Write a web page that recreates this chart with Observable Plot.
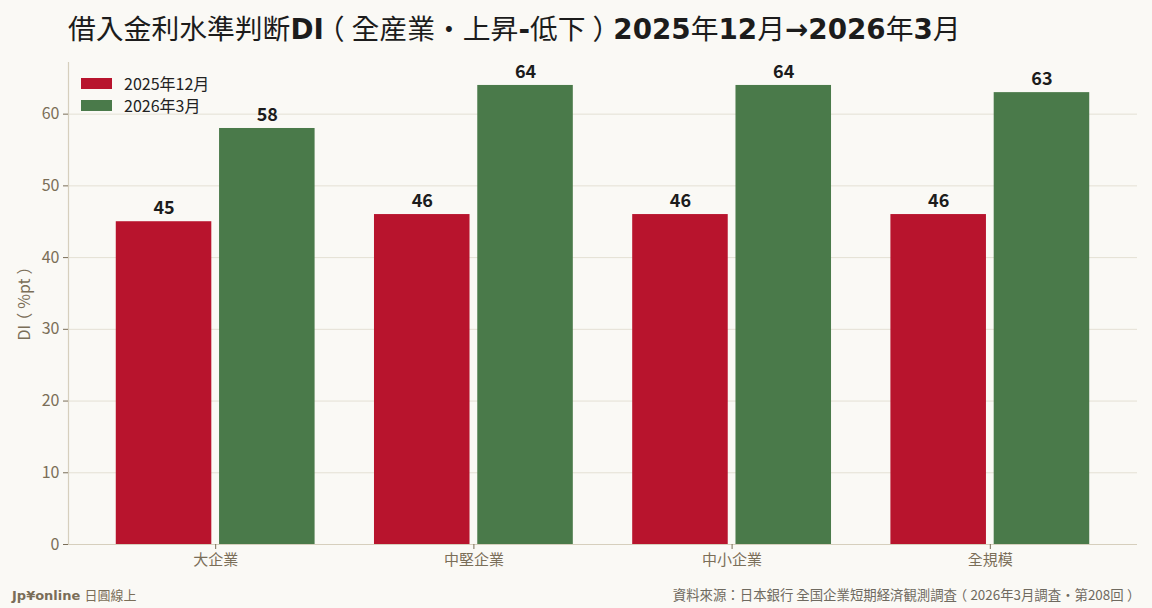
<!DOCTYPE html>
<html>
<head>
<meta charset="utf-8">
<script src="https://cdn.jsdelivr.net/npm/d3@7"></script>
<script src="https://cdn.jsdelivr.net/npm/@observablehq/plot@0.6"></script>
<style>
  html, body { margin: 0; padding: 0; background: #faf9f5; }
  #wrap { position: relative; width: 1152px; height: 608px; overflow: hidden; background: #faf9f5; }
  #title { position: absolute; left: 68px; top: 7px; font-size: 27.8px; color: #1c1c1c; white-space: nowrap;
           font-family: "DejaVu Sans", "Noto Sans CJK TC", sans-serif; font-weight: 700; line-height: 40px; }
  #title .cjk { font-family: "Noto Sans CJK TC", sans-serif; font-weight: 400; }
  .pp { font-feature-settings: "halt"; margin: 0 0.25em; }
  #chart { position: absolute; left: 0; top: 50px; }
  #legend { position: absolute; left: 81px; top: 72px; font-family: "Noto Sans CJK TC", sans-serif; font-size: 16px; color: #222; }
  #legend .row { display: flex; align-items: center; height: 22px; }
  #legend .sw { width: 31px; height: 11px; margin-right: 12px; }
  #foot-left { position: absolute; left: 12px; top: 585px; font-family: "DejaVu Sans", "Noto Sans CJK TC", sans-serif; font-size: 13px; color: #7a6e58; }
  #foot-left b { font-weight: 700; }
  #foot-left span { font-family: "Noto Sans CJK TC", sans-serif; }
  #foot-right { position: absolute; right: 15px; top: 584px; font-family: "Noto Sans CJK TC", sans-serif; font-size: 13.4px; color: #6f6a60; white-space: nowrap; }
</style>
</head>
<body>
<div id="wrap">
  <div id="title"></div>
  <div id="chart"></div>
  <div id="legend"></div>
  <div id="foot-left"><b>Jp¥online</b> <span>日圓線上</span></div>
  <div id="foot-right"></div>
</div>
<script>
const titleText = "借入金利水準判断DI（全産業・上昇-低下）2025年12月→2026年3月";
const sourceText = "資料來源：日本銀行 全国企業短期経済観測調査（2026年3月調査・第208回）";
const yLabel = "DI（%pt）";
const categories = ["大企業", "中堅企業", "中小企業", "全規模"];
const seriesNames = ["2025年12月", "2026年3月"];
const dec2025 = [45, 46, 46, 46];
const mar2026 = [58, 64, 64, 63];
const yTicks = [0, 10, 20, 30, 40, 50, 60];
const colors = ["#b8142d", "#4a7a4a"];

const centerParens = s => s.replace(/([（）])/g, '<span class="pp">$1</span>');

// Title: Latin parts bold, CJK parts regular
const titleEl = document.getElementById("title");
titleEl.innerHTML = titleText.replace(/([\u3000-\u30ff\u4e00-\u9fff\uff00-\uffef]+)/g, m => '<span class="cjk">' + centerParens(m) + '</span>');
document.getElementById("foot-right").innerHTML = centerParens(sourceText);

// Legend
const legendEl = document.getElementById("legend");
seriesNames.forEach((s, i) => {
  const row = document.createElement("div");
  row.className = "row";
  row.innerHTML = `<div class="sw" style="background:${colors[i]}"></div><div>${s}</div>`;
  legendEl.appendChild(row);
});

// Data table
const offset = 0.2, half = 0.185;
const rows = [];
categories.forEach((c, i) => {
  [dec2025, mar2026].forEach((vals, j) => {
    const cx = i + (j === 0 ? -offset : offset);
    rows.push({cat: c, series: seriesNames[j], value: vals[i], x1: cx - half, x2: cx + half, cx});
  });
});

const gridColor = "#e4e0d4";
const spineColor = "#d6cfbd";
const tickColor = "#7a6e58";

const chart = Plot.plot({
  width: 1152,
  height: 530,
  marginLeft: 68,
  marginRight: 15,
  marginTop: 12,
  marginBottom: 36,
  style: { background: "transparent", fontFamily: "'Noto Sans CJK TC', sans-serif", fontSize: "15px" },
  x: { domain: [-0.57, 3.57], ticks: d3.range(categories.length), tickFormat: i => categories[i] },
  y: { domain: [0, 67.2], ticks: yTicks },
  color: { domain: seriesNames, range: colors },
  marks: [
    Plot.ruleY(yTicks.slice(1), { stroke: gridColor, strokeWidth: 1 }),
    Plot.rectY(rows, { x1: "x1", x2: "x2", y1: 0, y2: "value", fill: "series" }),
    Plot.text(rows, { x: "cx", y: "value", text: d => String(d.value), dy: -13, fontSize: 18, fontWeight: 700, fill: "#1c1c1c" }),
    Plot.ruleY([0], { stroke: spineColor, strokeWidth: 1.2 }),
    Plot.ruleX([-0.57], { stroke: spineColor, strokeWidth: 1.2 }),
    Plot.axisY({ ticks: yTicks, tickSize: 5, tickPadding: 4, fontSize: 16, color: tickColor, stroke: tickColor,
                 label: yLabel, labelAnchor: "center", labelArrow: "none", labelOffset: 50 }),
    Plot.axisX({ ticks: d3.range(categories.length), tickFormat: i => categories[i], tickSize: 5, tickPadding: 5,
                 fontSize: 15, color: tickColor, stroke: tickColor, label: null })
  ]
});

// Center the fullwidth parentheses of the y-axis label, as in the reference
d3.select(chart).selectAll("text").filter(function () { return this.textContent === yLabel; }).each(function () {
  const t = d3.select(this);
  t.style("font-size", "16px").text(null);
  t.append("tspan").text("DI");
  t.append("tspan").attr("dx", "0.25em").style("font-feature-settings", "'halt'").text("（");
  t.append("tspan").attr("dx", "0.25em").text("%pt");
  t.append("tspan").attr("dx", "0.25em").style("font-feature-settings", "'halt'").text("）");
});

document.getElementById("chart").appendChild(chart);
</script>
</body>
</html>
